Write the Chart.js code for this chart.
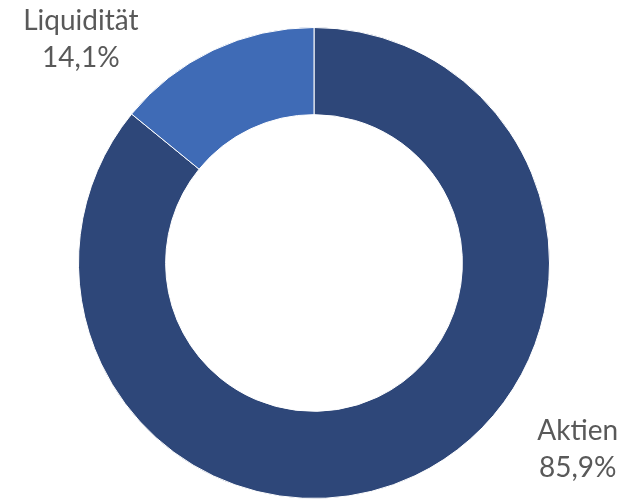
<!DOCTYPE html>
<html>
<head>
<meta charset="utf-8">
<script src="https://cdn.jsdelivr.net/npm/chart.js@4/dist/chart.umd.min.js"></script>
<style>
    html, body { margin: 0; padding: 0; background: #ffffff; }
    #wrap { width: 635px; height: 499px; }
</style>
</head>
<body>
<div id="wrap"><canvas id="chart"></canvas></div>
<script>
const categories = ["Aktien", "Liquidität"];
const shares = [85.9, 14.1];
const sliceColors = ["#2E4779", "#3F6BB6"];

// label anchor offsets, as fractions of the outer radius from the centre
const labelOffsets = [
    { dx: 1.12, dy: 0.79 },
    { dx: -0.99, dy: -0.95 }
];

const outsideLabels = {
    id: "outsideLabels",
    afterDraw(chart) {
        const ctx = chart.ctx;
        const meta = chart.getDatasetMeta(0);
        ctx.save();
        ctx.font = "28px Lato";
        ctx.fillStyle = "#595959";
        ctx.textAlign = "center";
        ctx.textBaseline = "middle";
        meta.data.forEach((arc, i) => {
            const r = arc.outerRadius;
            const x = arc.x + labelOffsets[i].dx * r;
            const y = arc.y + labelOffsets[i].dy * r;
            ctx.fillText(categories[i], x, y - 18);
            ctx.fillText(shares[i].toFixed(1).replace(".", ",") + "%", x, y + 19);
        });
        ctx.restore();
    }
};

new Chart(document.getElementById("chart"), {
    type: "doughnut",
    data: {
        labels: categories,
        datasets: [
            {
                data: shares,
                backgroundColor: sliceColors,
                borderColor: "#ffffff",
                borderWidth: 1
            }
        ]
    },
    options: {
        responsive: true,
        maintainAspectRatio: false,
        animation: false,
        cutout: "63%",
        layout: {
            padding: { top: 27, bottom: 0, left: 0, right: 7 }
        },
        plugins: {
            legend: { display: false },
            tooltip: { enabled: false }
        }
    },
    plugins: [outsideLabels]
});
</script>
</body>
</html>
